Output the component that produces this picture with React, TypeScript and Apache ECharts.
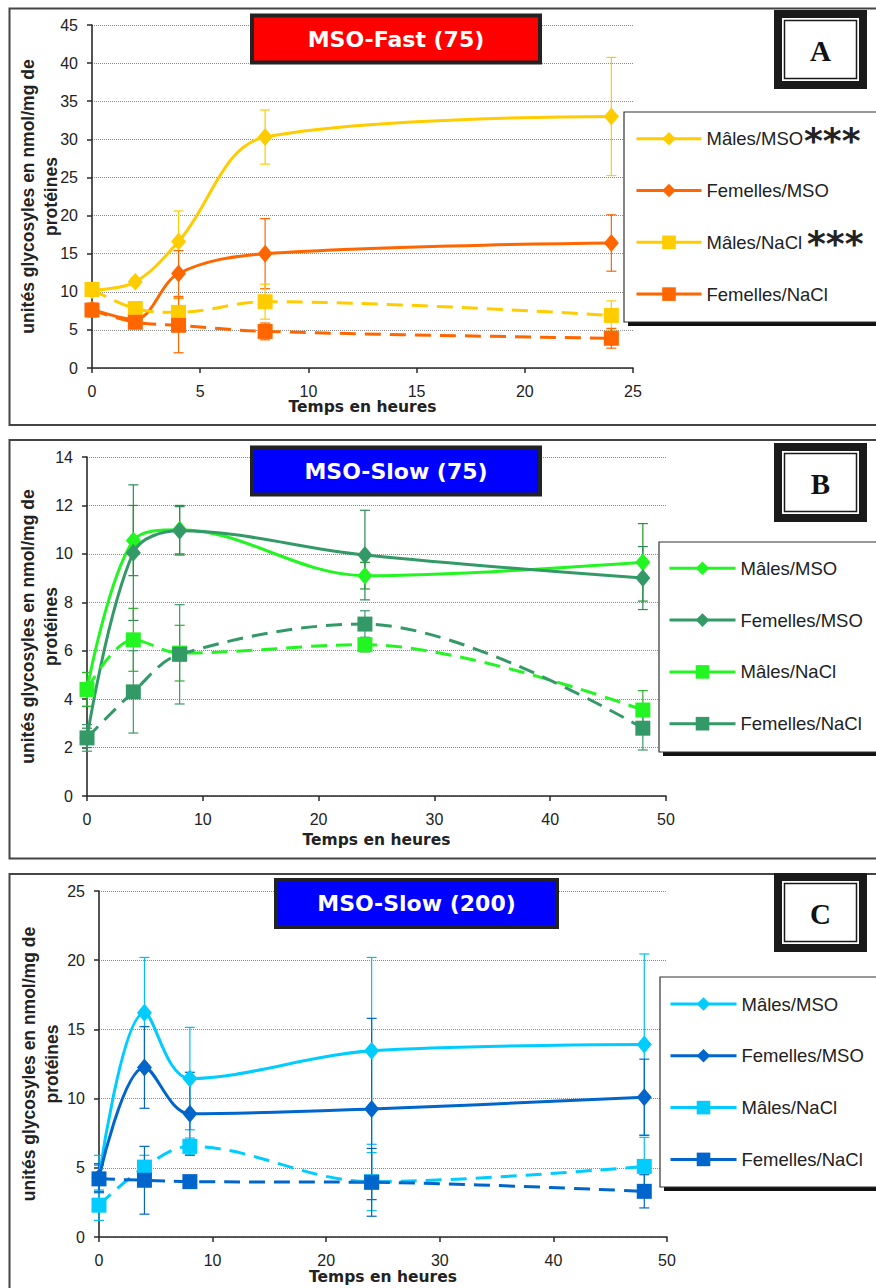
import React, { useEffect, useRef } from "react";
import * as echarts from "echarts";

// ---------- Data ----------
const seriesNames = ["Mâles/MSO", "Femelles/MSO", "Mâles/NaCl", "Femelles/NaCl"];
const yTitle = "unités glycosyles en nmol/mg de\nprotéines";
const xTitle = "Temps en heures";
const starText = "***";

// Panel A : MSO-Fast (75)
const timesA = [0, 2, 4, 8, 24];
const aMalesMSO = [10.2, 11.3, 16.6, 30.3, 33.0];
const aMalesMSOErr = [0.3, 0.5, 4.0, 3.55, 7.75];
const aFemMSO = [7.7, 6.4, 12.4, 15.0, 16.4];
const aFemMSOErr = [0.5, 0.4, 3.0, 4.6, 3.7];
const aMalesNaCl = [10.3, 7.8, 7.3, 8.7, 6.9];
const aMalesNaClErr = [0.4, 0.9, 1.8, 2.3, 1.9];
const aFemNaCl = [7.6, 6.0, 5.6, 4.8, 3.9];
const aFemNaClErr = [0.9, 0.3, 3.6, 1.1, 1.3];

// Panel B : MSO-Slow (75)
const timesB = [0, 4, 8, 24, 48];
const bMalesMSO = [4.4, 10.55, 11.0, 9.1, 9.65];
const bMalesMSOErr = [0.7, 1.45, 1.0, 0.55, 1.6];
const bFemMSO = [2.4, 10.05, 10.95, 9.95, 9.0];
const bFemMSOErr = [0.4, 2.8, 1.0, 1.85, 1.3];
const bMalesNaCl = [4.4, 6.45, 5.9, 6.25, 3.55];
const bMalesNaClErr = [0.7, 1.3, 1.15, 0.3, 0.8];
const bFemNaCl = [2.4, 4.3, 5.85, 7.1, 2.8];
const bFemNaClErr = [0.55, 1.7, 2.05, 0.55, 0.9];

// Panel C : MSO-Slow (200)
const timesC = [0, 4, 8, 24, 48];
const cMalesMSO = [4.3, 16.2, 11.45, 13.45, 13.9];
const cMalesMSOErr = [1.6, 4.0, 3.7, 6.75, 6.55];
const cFemMSO = [4.3, 12.25, 8.9, 9.25, 10.1];
const cFemMSOErr = [1.0, 2.95, 3.0, 6.55, 2.75];
const cMalesNaCl = [2.3, 5.05, 6.55, 4.0, 5.1];
const cMalesNaClErr = [1.1, 0.85, 0.6, 2.1, 2.1];
const cFemNaCl = [4.2, 4.1, 4.0, 3.95, 3.3];
const cFemNaClErr = [1.0, 2.45, 0.3, 2.45, 1.2];

const titles = ["MSO-Fast (75)", "MSO-Slow (75)", "MSO-Slow (200)"];
const letters = ["A", "B", "C"];

// ---------- Layout / style ----------
const panels = [
  {
    key: "A",
    times: timesA,
    values: [aMalesMSO, aFemMSO, aMalesNaCl, aFemNaCl],
    errs: [aMalesMSOErr, aFemMSOErr, aMalesNaClErr, aFemNaClErr],
    colors: ["#FFCC00", "#FF6600", "#FFCC00", "#FF6600"],
    errColors: ["#FFCC00", "#FF6600", "#FFCC00", "#FF6600"],
    grid: { left: 92, top: 25, width: 541, height: 343 },
    xMax: 25, xInt: 5, yMax: 45, yInt: 5,
    yNameGap: 29, xNameGap: 31,
    border: { y: 8.5, h: 416.5 },
    titleBox: { x: 252, y: 15.5, w: 288, h: 47, fill: "#FF0000" },
    letterBox: { x: 774, y: 10 },
    legendBox: { x: 624, y: 112, h: 210 },
    legend: { left: 635, top: 128.7, iconW: 65 },
    stars: [
      { x: 804, y: 140 },
      { x: 807, y: 243 },
    ],
  },
  {
    key: "B",
    times: timesB,
    values: [bMalesMSO, bFemMSO, bMalesNaCl, bFemNaCl],
    errs: [bMalesMSOErr, bFemMSOErr, bMalesNaClErr, bFemNaClErr],
    colors: ["#22F522", "#339966", "#22F522", "#339966"],
    errColors: ["#1F9A1F", "#2E8B57", "#2FB02F", "#3A9A6A"],
    grid: { left: 87, top: 457, width: 579, height: 339 },
    xMax: 50, xInt: 10, yMax: 14, yInt: 2,
    yNameGap: 24, xNameGap: 36,
    border: { y: 440, h: 418.5 },
    titleBox: { x: 252, y: 447.5, w: 288, h: 47, fill: "#0000FF" },
    letterBox: { x: 774, y: 443 },
    legendBox: { x: 659, y: 542, h: 210 },
    legend: { left: 668, top: 558.3, iconW: 66 },
    stars: [],
  },
  {
    key: "C",
    times: timesC,
    values: [cMalesMSO, cFemMSO, cMalesNaCl, cFemNaCl],
    errs: [cMalesMSOErr, cFemMSOErr, cMalesNaClErr, cFemNaClErr],
    colors: ["#00CCFF", "#0066CC", "#00CCFF", "#0066CC"],
    errColors: ["#00BFF5", "#0066CC", "#00BFF5", "#0066CC"],
    grid: { left: 99, top: 891, width: 568, height: 346 },
    xMax: 50, xInt: 10, yMax: 25, yInt: 5,
    yNameGap: 35, xNameGap: 32,
    border: { y: 874, h: 430 },
    titleBox: { x: 276, y: 880, w: 281, h: 47, fill: "#0000FF" },
    letterBox: { x: 774, y: 873 },
    legendBox: { x: 660, y: 977, h: 210 },
    legend: { left: 669, top: 994, iconW: 66 },
    stars: [],
  },
];

const AXIS_COLOR = "#2a2a2a";
const TEXT_COLOR = "#222";

function makeErrRender(color: string) {
  return (params: any, api: any) => {
    const x = api.value(0);
    const top = api.coord([x, api.value(2)]);
    const bot = api.coord([x, api.value(1)]);
    const w = 5;
    const style = { stroke: color, lineWidth: 1.2 };
    return {
      type: "group",
      children: [
        { type: "line", shape: { x1: top[0], y1: top[1], x2: bot[0], y2: bot[1] }, style },
        { type: "line", shape: { x1: top[0] - w, y1: top[1], x2: top[0] + w, y2: top[1] }, style },
        { type: "line", shape: { x1: bot[0] - w, y1: bot[1], x2: bot[0] + w, y2: bot[1] }, style },
      ],
    };
  };
}

function buildOption() {
  const grids: any[] = [];
  const xAxes: any[] = [];
  const yAxes: any[] = [];
  const series: any[] = [];
  const legends: any[] = [];
  const graphics: any[] = [];

  panels.forEach((p, pi) => {
    grids.push({ ...p.grid, containLabel: false, outerBoundsMode: "none" });
    xAxes.push({
      type: "value",
      gridIndex: pi,
      min: 0,
      max: p.xMax,
      interval: p.xInt,
      name: xTitle,
      nameLocation: "middle",
      nameGap: p.xNameGap,
      nameMoveOverlap: false,
      nameTextStyle: { fontFamily: "DejaVu Sans", fontWeight: "bold", fontSize: 15.5, color: TEXT_COLOR },
      axisLine: { show: true, onZero: false, lineStyle: { color: AXIS_COLOR, width: 1.6 } },
      axisTick: { show: true, length: 5, lineStyle: { color: AXIS_COLOR, width: 1.5 } },
      axisLabel: { fontFamily: "Liberation Sans", fontSize: 16, color: TEXT_COLOR, margin: 15 },
      splitLine: { show: false },
    });
    yAxes.push({
      type: "value",
      gridIndex: pi,
      min: 0,
      max: p.yMax,
      interval: p.yInt,
      name: yTitle,
      nameLocation: "middle",
      nameRotate: 90,
      nameGap: p.yNameGap,
      nameMoveOverlap: false,
      nameTextStyle: {
        fontFamily: "Liberation Sans",
        fontWeight: "bold",
        fontSize: 17.5,
        lineHeight: 23.5,
        color: TEXT_COLOR,
      },
      axisLine: { show: true, lineStyle: { color: AXIS_COLOR, width: 1.6 } },
      axisTick: { show: true, length: 5, lineStyle: { color: AXIS_COLOR, width: 1.5 } },
      axisLabel: { fontFamily: "Liberation Sans", fontSize: 16, color: TEXT_COLOR, margin: 14 },
      splitLine: { show: true, lineStyle: { color: "#8a8a8a", type: "dotted", width: 1 } },
    });

    // error bars
    p.values.forEach((vals, si) => {
      const errs = p.errs[si];
      series.push({
        type: "custom",
        xAxisIndex: pi,
        yAxisIndex: pi,
        silent: true,
        z: 2,
        renderItem: makeErrRender(p.errColors[si]),
        encode: { x: 0, y: [1, 2] },
        data: p.times.map((t, i) => [t, vals[i] - errs[i], vals[i] + errs[i]]),
      });
    });

    // lines
    p.values.forEach((vals, si) => {
      const isNaCl = si >= 2;
      const color = p.colors[si];
      series.push({
        type: "line",
        name: p.key + ":" + seriesNames[si],
        xAxisIndex: pi,
        yAxisIndex: pi,
        z: 3 + si,
        smooth: 0.35,
        symbol: isNaCl ? "rect" : "diamond",
        symbolSize: isNaCl ? 15 : [15, 18],
        showSymbol: true,
        lineStyle: { color, width: 3, type: isNaCl ? [16, 9] : "solid" },
        itemStyle: { color, borderWidth: 0 },
        emphasis: { disabled: true },
        data: p.times.map((t, i) => [t, vals[i]]),
      });
    });

    legends.push({
      orient: "vertical",
      left: p.legend.left,
      top: p.legend.top,
      padding: 0,
      itemWidth: p.legend.iconW,
      itemHeight: 17,
      itemGap: 31.8,
      selectedMode: false,
      z: 12,
      data: seriesNames.map((n) => p.key + ":" + n),
      formatter: (name: string) => name.slice(2),
      textStyle: {
        fontFamily: "Liberation Sans",
        fontSize: 18.5,
        lineHeight: 20,
        color: TEXT_COLOR,
      },
      lineStyle: { type: "solid", width: 3 },
    });

    // significance stars next to legend entries
    p.stars.forEach((s) => {
      graphics.push({
        type: "text",
        z: 12,
        silent: true,
        x: s.x,
        y: s.y,
        style: {
          text: starText,
          fill: TEXT_COLOR,
          font: "bold 36px 'DejaVu Sans'",
          textAlign: "left",
          textVerticalAlign: "middle",
          align: "left",
          verticalAlign: "middle",
        },
      });
    });

    // panel border
    graphics.push({
      type: "rect",
      z: 0,
      silent: true,
      shape: { x: 9.5, y: p.border.y, width: 880, height: p.border.h },
      style: { fill: "none", stroke: "#444", lineWidth: 2 },
    });

    // title box
    const tb = p.titleBox;
    graphics.push({
      type: "rect",
      z: 8,
      silent: true,
      shape: { x: tb.x, y: tb.y, width: tb.w, height: tb.h },
      style: { fill: tb.fill, stroke: "#222", lineWidth: 4 },
    });
    graphics.push({
      type: "text",
      z: 9,
      silent: true,
      x: tb.x + tb.w / 2,
      y: tb.y + tb.h / 2,
      style: {
        text: titles[pi],
        fill: "#ffffff",
        font: "bold 22px 'DejaVu Sans'",
        textAlign: "center",
        textVerticalAlign: "middle",
        align: "center",
        verticalAlign: "middle",
      },
    });

    // letter box
    const lb = p.letterBox;
    graphics.push({
      type: "rect",
      z: 8,
      silent: true,
      shape: { x: lb.x, y: lb.y, width: 93, height: 79 },
      style: { fill: "#1a1a1a" },
    });
    graphics.push({
      type: "rect",
      z: 8,
      silent: true,
      shape: { x: lb.x + 8, y: lb.y + 8, width: 77, height: 63 },
      style: { fill: "#ffffff" },
    });
    graphics.push({
      type: "rect",
      z: 8,
      silent: true,
      shape: { x: lb.x + 10.5, y: lb.y + 10.5, width: 72, height: 58 },
      style: { fill: "none", stroke: "#1a1a1a", lineWidth: 1.5 },
    });
    graphics.push({
      type: "text",
      z: 9,
      silent: true,
      x: lb.x + 46.5,
      y: lb.y + 41,
      style: {
        text: letters[pi],
        fill: "#111",
        font: "bold 29px 'Liberation Serif'",
        textAlign: "center",
        textVerticalAlign: "middle",
        align: "center",
        verticalAlign: "middle",
      },
    });

    // legend box with shadow
    const gb = p.legendBox;
    graphics.push({
      type: "rect",
      z: 9,
      silent: true,
      shape: { x: gb.x + 4, y: gb.y + 4, width: 300, height: gb.h },
      style: { fill: "#111" },
    });
    graphics.push({
      type: "rect",
      z: 10,
      silent: true,
      shape: { x: gb.x, y: gb.y, width: 300, height: gb.h },
      style: { fill: "#ffffff", stroke: "#333", lineWidth: 1.2 },
    });
  });

  return {
    animation: false,
    backgroundColor: "#ffffff",
    grid: grids,
    xAxis: xAxes,
    yAxis: yAxes,
    legend: legends,
    series,
    graphic: { elements: graphics },
  };
}

export default function App() {
  const ref = useRef<HTMLDivElement | null>(null);
  useEffect(() => {
    if (!ref.current) return;
    const chart = echarts.init(ref.current, undefined, { renderer: "svg" });
    chart.setOption(buildOption() as any);
    return () => chart.dispose();
  }, []);
  return (
    <div
      ref={ref}
      style={{ position: "absolute", left: 0, top: 0, width: 876, height: 1288, background: "#fff" }}
    />
  );
}
